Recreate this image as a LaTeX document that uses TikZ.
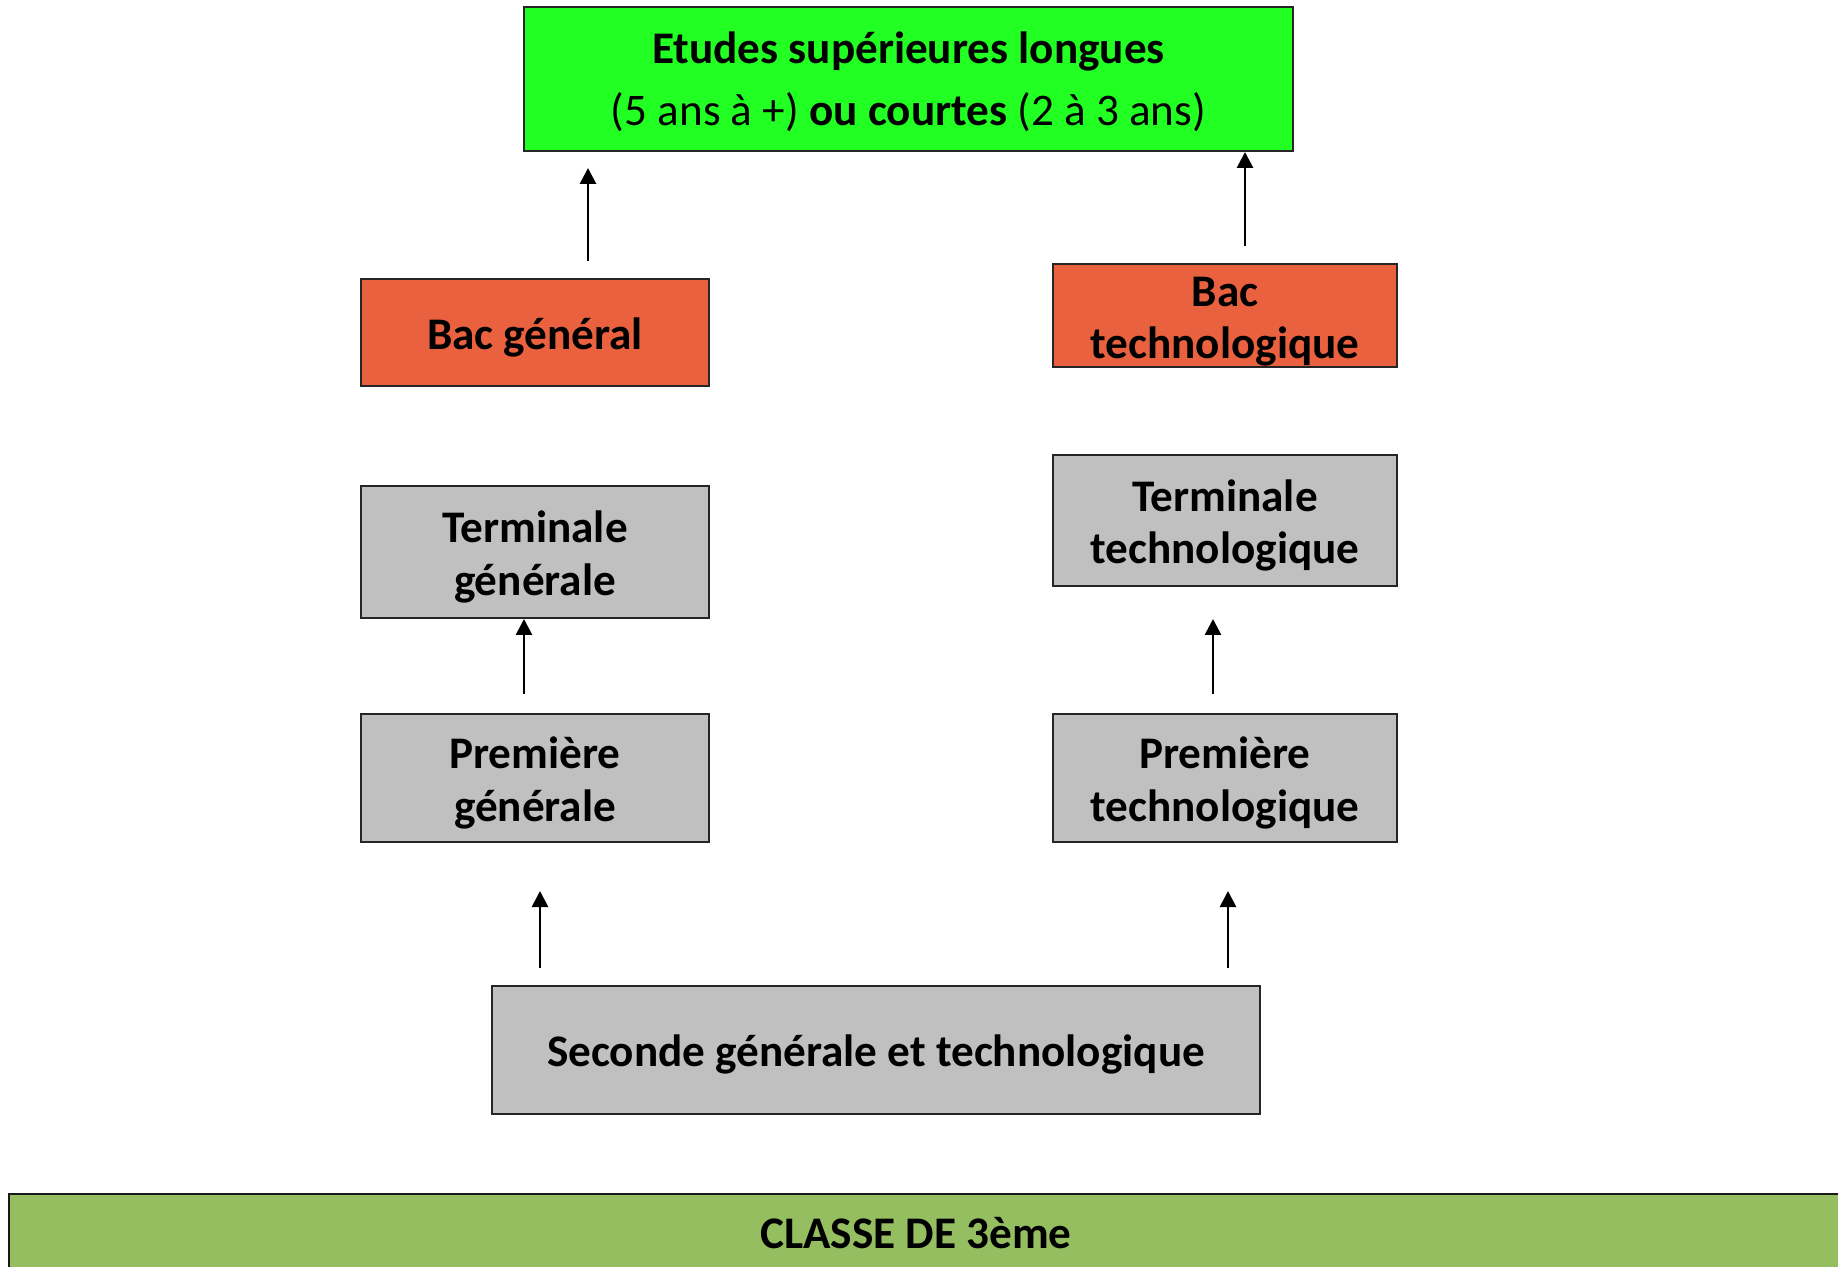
\documentclass[tikz,border=0pt]{standalone}
\usepackage{fontspec}
\setmainfont{Carlito}
\usetikzlibrary{arrows.meta}
\definecolor{topgreen}{HTML}{22FF22}
\definecolor{bacred}{HTML}{EA6140}
\definecolor{boxgray}{HTML}{C0C0C0}
\definecolor{basegreen}{HTML}{94BE5F}
\newcommand{\fstrut}{\rule{0pt}{0.92em}}
\tikzset{
  box/.style={draw=black!85, line width=1pt, align=center, inner sep=0pt,
    font=\fontsize{22.6}{26.4}\selectfont\bfseries},
  graybox/.style={box, fill=boxgray},
  bacbox/.style={box, fill=bacred},
  arr/.style={-{Triangle[length=8pt,width=8pt]}, line width=1.4pt},
}
\begin{document}
\begin{tikzpicture}[x=0.5pt,y=-0.5pt]
\useasboundingbox (0,0) rectangle (1838,1267);
\clip (0,0) rectangle (1838,1267);
% top
\node[box, fill=topgreen, minimum width=384.5pt, minimum height=72pt,
  font=\fontsize{22.6}{31}\selectfont] (top) at (908.5,79)
  {\rule{0pt}{0.84em}\textbf{Etudes supérieures longues}\\(5 ans à +) \textbf{ou courtes} (2 à 3 ans)};
% bacs
\node[bacbox, minimum width=174pt, minimum height=53.5pt] (bacg) at (535,332.5) {\fstrut Bac général};
\node[bacbox, minimum width=172pt, minimum height=51.5pt] (bact) at (1225,315.5) {\fstrut Bac\\technologique};
% terminales
\node[graybox, minimum width=174pt, minimum height=66pt] (termg) at (535,552) {\fstrut Terminale\\générale};
\node[graybox, minimum width=172pt, minimum height=65.5pt] (termt) at (1225,520.5) {\fstrut Terminale\\technologique};
% premieres
\node[graybox, minimum width=174pt, minimum height=64pt] (premg) at (535,778) {\fstrut Première\\générale};
\node[graybox, minimum width=172pt, minimum height=64pt] (premt) at (1225,778) {\fstrut Première\\technologique};
% seconde
\node[graybox, minimum width=384pt, minimum height=64pt] (sec) at (876,1050) {\fstrut Seconde générale et technologique};
% classe de 3eme
\fill[basegreen, draw=black!90, line width=1.2pt] (9,1194) rectangle (1860,1290);
\node[font=\fontsize{22.6}{26.4}\selectfont\bfseries] (classe) at (916,1233) {CLASSE DE 3ème};
% arrow ends
\coordinate (a1s) at (588,261);
\coordinate (a1e) at (588,168);
\coordinate (a2s) at (1245,246);
\coordinate (a3s) at (524,694);
\coordinate (a4s) at (1213,694);
\coordinate (a4e) at (1213,619);
\coordinate (a5s) at (540,968);
\coordinate (a5e) at (540,891);
\coordinate (a6s) at (1228,968);
\coordinate (a6e) at (1228,891);
\draw[arr] (a1s) -- (a1e);
\draw[arr] (a2s) -- (a2s |- top.south);
\draw[arr] (a3s) -- (a3s |- termg.south);
\draw[arr] (a4s) -- (a4e);
\draw[arr] (a5s) -- (a5e);
\draw[arr] (a6s) -- (a6e);
\end{tikzpicture}
\end{document}
